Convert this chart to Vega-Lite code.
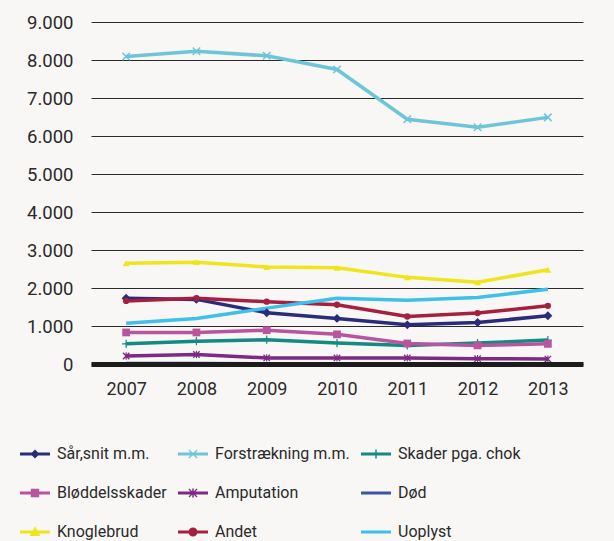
{
  "$schema": "https://vega.github.io/schema/vega-lite/v6.json",
  "width": 492,
  "height": 342,
  "autosize": "none",
  "padding": {"left": 91, "top": 22, "right": 31, "bottom": 177},
  "background": "#f8f7f5",
  "config": {
    "view": {"stroke": null},
    "font": "Roboto",
    "locale": {"number": {"decimal": ",", "thousands": ".", "grouping": [3], "currency": ["", " kr."]}}
  },
  "data": {
    "values": [
      {"year": "2007", "series": "Sår,snit m.m.", "value": 1730},
      {"year": "2008", "series": "Sår,snit m.m.", "value": 1700},
      {"year": "2009", "series": "Sår,snit m.m.", "value": 1350},
      {"year": "2010", "series": "Sår,snit m.m.", "value": 1200},
      {"year": "2011", "series": "Sår,snit m.m.", "value": 1030},
      {"year": "2012", "series": "Sår,snit m.m.", "value": 1090},
      {"year": "2013", "series": "Sår,snit m.m.", "value": 1270},
      {"year": "2007", "series": "Forstrækning m.m.", "value": 8090},
      {"year": "2008", "series": "Forstrækning m.m.", "value": 8230},
      {"year": "2009", "series": "Forstrækning m.m.", "value": 8110},
      {"year": "2010", "series": "Forstrækning m.m.", "value": 7750},
      {"year": "2011", "series": "Forstrækning m.m.", "value": 6440},
      {"year": "2012", "series": "Forstrækning m.m.", "value": 6230},
      {"year": "2013", "series": "Forstrækning m.m.", "value": 6490},
      {"year": "2007", "series": "Skader pga. chok", "value": 530},
      {"year": "2008", "series": "Skader pga. chok", "value": 600},
      {"year": "2009", "series": "Skader pga. chok", "value": 640},
      {"year": "2010", "series": "Skader pga. chok", "value": 550},
      {"year": "2011", "series": "Skader pga. chok", "value": 490},
      {"year": "2012", "series": "Skader pga. chok", "value": 550},
      {"year": "2013", "series": "Skader pga. chok", "value": 630},
      {"year": "2007", "series": "Bløddelsskader", "value": 830},
      {"year": "2008", "series": "Bløddelsskader", "value": 830},
      {"year": "2009", "series": "Bløddelsskader", "value": 890},
      {"year": "2010", "series": "Bløddelsskader", "value": 780},
      {"year": "2011", "series": "Bløddelsskader", "value": 540},
      {"year": "2012", "series": "Bløddelsskader", "value": 490},
      {"year": "2013", "series": "Bløddelsskader", "value": 530},
      {"year": "2007", "series": "Amputation", "value": 210},
      {"year": "2008", "series": "Amputation", "value": 250},
      {"year": "2009", "series": "Amputation", "value": 160},
      {"year": "2010", "series": "Amputation", "value": 160},
      {"year": "2011", "series": "Amputation", "value": 160},
      {"year": "2012", "series": "Amputation", "value": 140},
      {"year": "2013", "series": "Amputation", "value": 130},
      {"year": "2007", "series": "Død", "value": 10},
      {"year": "2008", "series": "Død", "value": 10},
      {"year": "2009", "series": "Død", "value": 8},
      {"year": "2010", "series": "Død", "value": 8},
      {"year": "2011", "series": "Død", "value": 8},
      {"year": "2012", "series": "Død", "value": 8},
      {"year": "2013", "series": "Død", "value": 8},
      {"year": "2007", "series": "Knoglebrud", "value": 2650},
      {"year": "2008", "series": "Knoglebrud", "value": 2680},
      {"year": "2009", "series": "Knoglebrud", "value": 2550},
      {"year": "2010", "series": "Knoglebrud", "value": 2530},
      {"year": "2011", "series": "Knoglebrud", "value": 2280},
      {"year": "2012", "series": "Knoglebrud", "value": 2150},
      {"year": "2013", "series": "Knoglebrud", "value": 2480},
      {"year": "2007", "series": "Andet", "value": 1660},
      {"year": "2008", "series": "Andet", "value": 1730},
      {"year": "2009", "series": "Andet", "value": 1640},
      {"year": "2010", "series": "Andet", "value": 1560},
      {"year": "2011", "series": "Andet", "value": 1250},
      {"year": "2012", "series": "Andet", "value": 1340},
      {"year": "2013", "series": "Andet", "value": 1530},
      {"year": "2007", "series": "Uoplyst", "value": 1070},
      {"year": "2008", "series": "Uoplyst", "value": 1200},
      {"year": "2009", "series": "Uoplyst", "value": 1470},
      {"year": "2010", "series": "Uoplyst", "value": 1730},
      {"year": "2011", "series": "Uoplyst", "value": 1680},
      {"year": "2012", "series": "Uoplyst", "value": 1750},
      {"year": "2013", "series": "Uoplyst", "value": 1970}
    ]
  },
  "encoding": {
    "x": {
      "field": "year", "type": "ordinal",
      "scale": {"type": "point", "padding": 0.5},
      "axis": {"title": null, "labelAngle": 0, "ticks": false, "domain": true, "domainColor": "#1c1c1c", "domainWidth": 5, "domainCap": "butt", "labelPadding": 16, "labelFontSize": 18, "labelColor": "#2a2a2a", "zindex": 1}
    },
    "y": {
      "field": "value", "type": "quantitative",
      "scale": {"domain": [0, 9000], "nice": false},
      "axis": {"title": null, "domain": false, "ticks": false, "grid": true, "gridColor": "#2a2a2a", "gridWidth": 1, "values": [0, 1000, 2000, 3000, 4000, 5000, 6000, 7000, 8000, 9000], "labelFontSize": 18.5, "labelPadding": 18, "labelColor": "#2a2a2a"}
    },
    "color": {
      "field": "series", "type": "nominal",
      "scale": {
        "domain": ["Sår,snit m.m.", "Forstrækning m.m.", "Skader pga. chok", "Bløddelsskader", "Amputation", "Død", "Knoglebrud", "Andet", "Uoplyst"],
        "range": ["#2b2b7b", "#6cc6d8", "#138a82", "#b9549f", "#7c2a82", "#3b55a5", "#eee51a", "#a5203f", "#3fc0ea"]
      },
      "legend": {
        "title": null, "orient": "none", "legendX": -71, "legendY": 417, "columns": 3, "direction": "horizontal",
        "padding": 0, "rowPadding": 16, "columnPadding": 11, "symbolSize": 900, "symbolType": "stroke", "symbolStrokeWidth": 3,
        "labelFontSize": 16, "labelColor": "#2a2a2a", "labelOffset": 7, "labelLimit": 300,
        "encode": {
          "symbols": {
            "update": {
              "fill": {"scale": "color", "field": "value"},
              "strokeWidth": {"value": 0},
              "opacity": {"value": 1},
              "shape": {"signal": "datum.value === 'Sår,snit m.m.' ? 'M-1,-0.1H1V0.1H-1Z M0,-0.3L0.3,0L0,0.3L-0.3,0Z' : datum.value === 'Forstrækning m.m.' ? 'M-1,-0.1H1V0.1H-1Z M-0.3,-0.24L-0.24,-0.3L0.3,0.24L0.24,0.3Z M0.3,-0.24L-0.24,0.3L-0.3,0.24L0.24,-0.3Z' : datum.value === 'Skader pga. chok' ? 'M-1,-0.1H1V0.1H-1Z M-0.05,-0.3H0.05V0.3H-0.05Z' : datum.value === 'Bløddelsskader' ? 'M-1,-0.1H1V0.1H-1Z M-0.28,-0.28H0.28V0.28H-0.28Z' : datum.value === 'Amputation' ? 'M-1,-0.1H1V0.1H-1Z M-0.3,-0.24L-0.24,-0.3L0.3,0.24L0.24,0.3Z M0.3,-0.24L-0.24,0.3L-0.3,0.24L0.24,-0.3Z M-0.05,-0.3H0.05V0.3H-0.05Z' : datum.value === 'Knoglebrud' ? 'M-1,-0.1H1V0.1H-1Z M0,-0.38L0.36,0.26H-0.36Z' : datum.value === 'Andet' ? 'M-1,-0.1H1V0.1H-1Z M-0.3,0A0.3,0.3 0 1,1 0.3,0A0.3,0.3 0 1,1 -0.3,0Z' : 'M-1,-0.1H1V0.1H-1Z'"}
            }
          }
        }
      }
    }
  },
  "layer": [
    {
      "mark": {"type": "line", "strokeWidth": 3.5}
    },
    {
      "transform": [{"filter": "datum.series !== 'Død' && datum.series !== 'Uoplyst'"}],
      "mark": {"type": "point", "filled": true, "opacity": 1},
      "encoding": {
        "shape": {
          "field": "series", "type": "nominal", "legend": null,
          "scale": {
            "domain": ["Sår,snit m.m.", "Forstrækning m.m.", "Skader pga. chok", "Bløddelsskader", "Amputation", "Knoglebrud", "Andet"],
            "range": [
              "diamond",
              "M-1,-0.75L-0.75,-1L1,0.75L0.75,1Z M1,-0.75L-0.75,1L-1,0.75L0.75,-1Z",
              "M-0.15,-1H0.15V1H-0.15Z M-1,-0.15H1V0.15H-1Z",
              "square",
              "M-1,-0.75L-0.75,-1L1,0.75L0.75,1Z M1,-0.75L-0.75,1L-1,0.75L0.75,-1Z M-0.15,-1H0.15V1H-0.15Z",
              "triangle-up",
              "circle"
            ]
          }
        },
        "size": {
          "field": "series", "type": "nominal", "legend": null,
          "scale": {
            "domain": ["Sår,snit m.m.", "Forstrækning m.m.", "Skader pga. chok", "Bløddelsskader", "Amputation", "Knoglebrud", "Andet"],
            "range": [80, 40, 64, 90, 40, 110, 110]
          }
        }
      }
    }
  ]
}
